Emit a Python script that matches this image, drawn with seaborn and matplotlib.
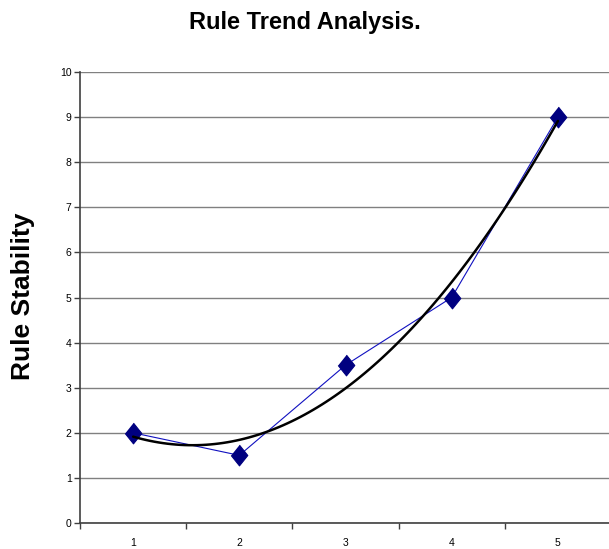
import matplotlib
matplotlib.use("Agg")
import matplotlib.pyplot as plt
import seaborn as sns
import pandas as pd
import numpy as np

# Series
periods = [1, 2, 3, 4, 5]
stability = [2, 1.5, 3.5, 5, 9]
y_ticks = [0, 1, 2, 3, 4, 5, 6, 7, 8, 9, 10]

df = pd.DataFrame({"period": periods, "stability": stability})

sns.set_style("white")
plt.rcParams["font.family"] = ["Liberation Sans", "DejaVu Sans"]
plt.rcParams["text.color"] = "black"

fig = plt.figure(figsize=(6.09, 5.49), dpi=100)
ax = fig.add_axes([80 / 609, 26 / 549, 531 / 609, 451 / 549])

# Gridlines
ax.set_axisbelow(True)
ax.yaxis.grid(True, color="#808080", linewidth=1.0)
ax.xaxis.grid(False)

# Diamond marker, a little taller than wide
diamond = [(0, 1), (0.8, 0), (0, -1), (-0.8, 0)]

# Data series
sns.lineplot(data=df, x="period", y="stability", ax=ax, color="#1010c0",
             linewidth=0.8, marker=diamond, markersize=15, markerfacecolor="#000080",
             markeredgecolor="#000080", zorder=3)

# Polynomial (order 2) trendline
sns.regplot(data=df, x="period", y="stability", ax=ax, order=2, ci=None,
            scatter=False, color="black", line_kws={"linewidth": 1.8, "zorder": 4})

ax.set_xlim(0.5, 5.5)
ax.set_ylim(0, 10)
ax.set_yticks(y_ticks)
ax.set_yticklabels([str(v) for v in y_ticks])
ax.set_xticks(periods)
ax.set_xticklabels([str(v) for v in periods])
ax.set_xticks(np.arange(0.5, 5.6, 1.0), minor=True)

ax.tick_params(axis="x", which="major", length=0, pad=11, labelsize=7.5, labelcolor="black")
ax.tick_params(axis="x", which="minor", length=4, width=1, color="#404040", direction="out")
ax.tick_params(axis="y", which="major", length=4, width=1, color="#404040",
               direction="out", pad=2, labelsize=7.5, labelcolor="black")
ax.tick_params(axis="both", left=True, bottom=True)
ax.xaxis.set_tick_params(which="minor", bottom=True)

for side in ["top", "right"]:
    ax.spines[side].set_visible(False)
for side in ["left", "bottom"]:
    ax.spines[side].set_color("#404040")
    ax.spines[side].set_linewidth(1.2)

ax.set_xlabel("")
ax.set_ylabel("")

fig.text(305 / 609, 1 - 23 / 549, "Rule Trend Analysis.", ha="center", va="center",
         fontsize=17, fontweight="bold", color="black")
fig.text(23 / 609, 1 - 296 / 549, "Rule Stability", ha="center", va="center",
         rotation=90, fontsize=19, fontweight="bold", color="black")

fig.savefig("out.png", dpi=100)
